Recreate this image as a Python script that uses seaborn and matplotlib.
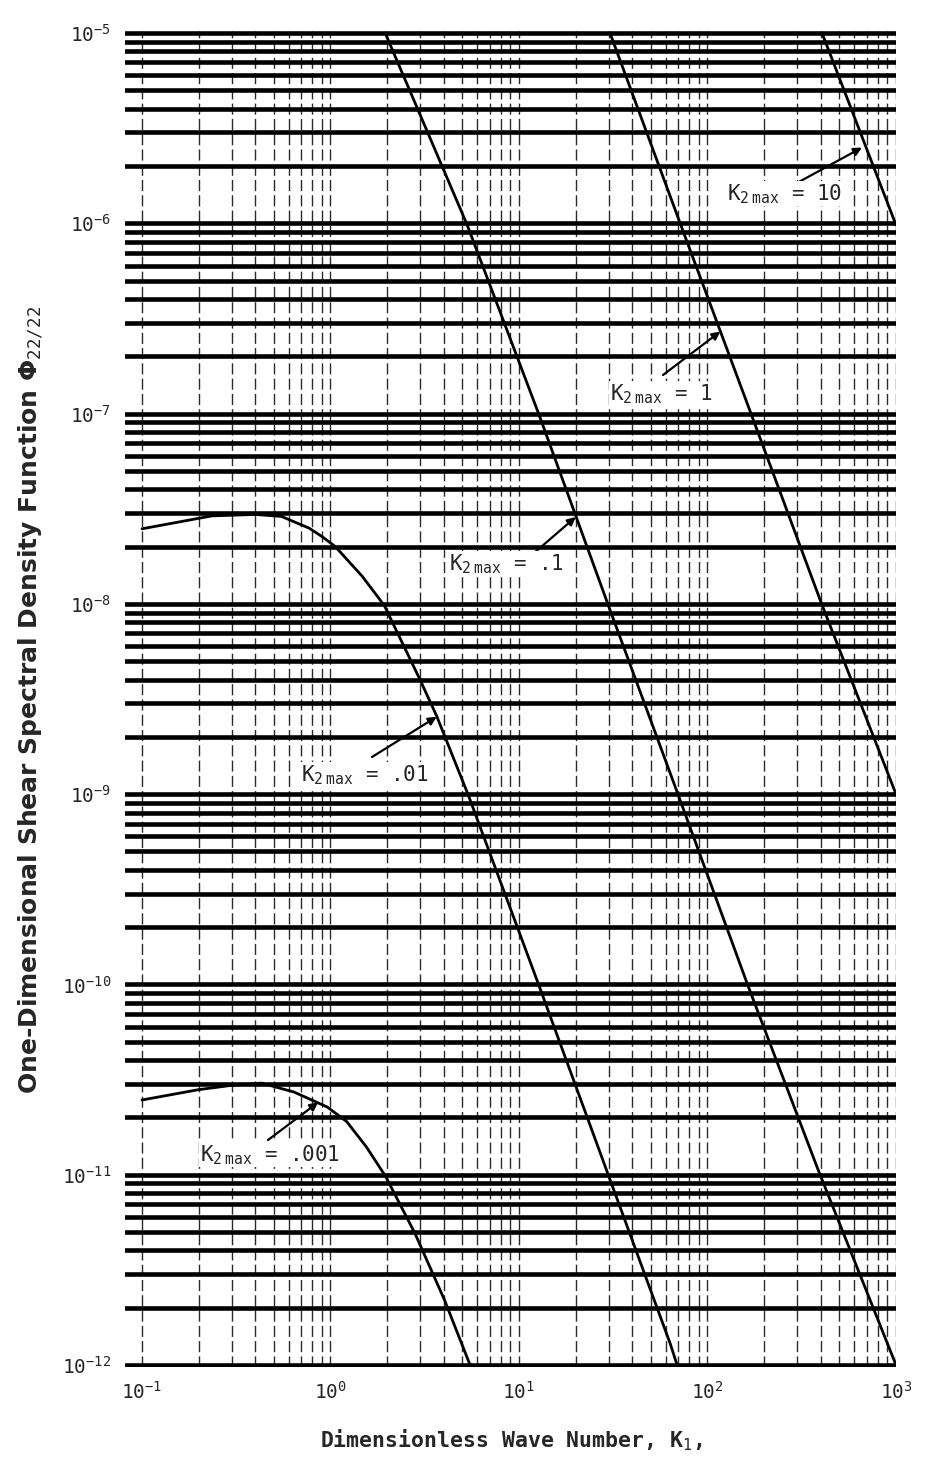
import matplotlib
matplotlib.use("Agg")
import matplotlib.pyplot as plt
import matplotlib.ticker as mticker
import pandas as pd
import seaborn as sns

# ---------------- data ----------------
k1_k2_10 = [405, 1000]
phi_k2_10 = [1.0e-5, 9.8e-7]

k1_k2_1 = [30.4, 71.6, 167, 403, 1000]
phi_k2_1 = [1.0e-5, 1.0e-6, 1.05e-7, 1.0e-8, 1.0e-9]

k1_k2_p1 = [1.95, 5.31, 12.8, 29.8, 70.2, 163, 385, 1000]
phi_k2_p1 = [1.0e-5, 9.8e-7, 9.8e-8, 9.8e-9, 9.8e-10, 1.0e-10, 1.07e-11, 1.0e-12]

k1_k2_p01 = [0.1, 0.235, 0.4, 0.55, 0.77, 0.906, 1.06, 1.47, 1.93, 2.99, 3.66,
             5.4, 12.7, 29.0, 63.5, 69.0]
phi_k2_p01 = [2.48e-8, 2.9e-8, 2.95e-8, 2.88e-8, 2.5e-8, 2.25e-8, 2.0e-8, 1.4e-8,
              9.8e-9, 3.98e-9, 2.57e-9, 9.8e-10, 1.0e-10, 1.07e-11, 1.29e-12, 1.0e-12]

k1_k2_p001 = [0.1, 0.2, 0.3, 0.43, 0.64, 0.96, 1.22, 1.55, 1.96, 2.8, 4.03, 5.5]
phi_k2_p001 = [2.47e-11, 2.8e-11, 2.95e-11, 3.03e-11, 2.72e-11, 2.27e-11, 1.9e-11,
               1.4e-11, 9.8e-12, 4.94e-12, 2.19e-12, 1.0e-12]

curve_names = ["10", "1", ".1", ".01", ".001"]
curve_k1 = [k1_k2_10, k1_k2_1, k1_k2_p1, k1_k2_p01, k1_k2_p001]
curve_phi = [phi_k2_10, phi_k2_1, phi_k2_p1, phi_k2_p01, phi_k2_p001]

# arrow tips (on the curves, data coords) for the K2 max labels
tip_k1 = [660, 117, 20, 3.66, 0.86]
tip_phi = [2.5e-6, 2.7e-7, 2.86e-8, 2.55e-9, 2.4e-11]

x_tick_values = [0.1, 1, 10, 100, 1000]
x_tick_labels = ["10$^{-1}$", "10$^{0}$", "10$^{1}$", "10$^{2}$", "10$^{3}$"]
y_tick_values = [1e-12, 1e-11, 1e-10, 1e-9, 1e-8, 1e-7, 1e-6, 1e-5]
y_tick_labels = ["10$^{-12}$", "10$^{-11}$", "10$^{-10}$", "10$^{-9}$",
                 "10$^{-8}$", "10$^{-7}$", "10$^{-6}$", "10$^{-5}$"]

x_label = "Dimensionless Wave Number, K$_{1}$,"
y_label = "One-Dimensional Shear Spectral Density Function \u03A6$_{22/22}$"

# ---------------- style ----------------
sns.set_style("white")
plt.rcParams["font.family"] = ["DejaVu Sans Mono", "DejaVu Sans"]
plt.rcParams["mathtext.fontset"] = "custom"
plt.rcParams["mathtext.rm"] = "DejaVu Sans Mono"
plt.rcParams["mathtext.it"] = "DejaVu Sans Mono"
plt.rcParams["mathtext.bf"] = "DejaVu Sans Mono:bold"
plt.rcParams["mathtext.default"] = "rm"

W, H = 929, 1459
fig = plt.figure(figsize=(W / 100, H / 100), dpi=100)
fig.patch.set_facecolor("white")

L, R, T, B = 125, 896, 31, 1367
ax = fig.add_axes([L / W, 1 - B / H, (R - L) / W, (B - T) / H])
ax.set_xscale("log")
ax.set_yscale("log")

frames = []
for name, xs, ys in zip(curve_names, curve_k1, curve_phi):
    frames.append(pd.DataFrame({"k1": xs, "phi": ys, "k2max": name}))
df = pd.concat(frames, ignore_index=True)

for name in curve_names:
    sub = df[df["k2max"] == name]
    sns.lineplot(data=sub, x="k1", y="phi", ax=ax, color="black", lw=2.0,
                 estimator=None, sort=False, legend=False, zorder=5)

ax.set_xlim(10 ** (-1 - 17 / 188.5), 1000)
ax.set_ylim(10 ** (-12 - 2 / 190.3), 10 ** (-5 + 2 / 190.3))

# grid: thick horizontal lines, thin broken vertical lines
x_minor = [m * 10.0 ** e for e in range(-1, 3) for m in range(2, 10)]
y_minor = [m * 10.0 ** e for e in range(-12, -5) for m in range(2, 10)]
ax.xaxis.set_major_locator(mticker.FixedLocator(x_tick_values))
ax.xaxis.set_minor_locator(mticker.FixedLocator(x_minor))
ax.yaxis.set_major_locator(mticker.FixedLocator(y_tick_values))
ax.yaxis.set_minor_locator(mticker.FixedLocator(y_minor))
ax.xaxis.set_major_formatter(mticker.FixedFormatter(x_tick_labels))
ax.xaxis.set_minor_formatter(mticker.NullFormatter())
ax.yaxis.set_major_formatter(mticker.FixedFormatter(y_tick_labels))
ax.yaxis.set_minor_formatter(mticker.NullFormatter())

ax.grid(True, which="both", axis="y", color="black", lw=3.3, zorder=2)
ax.grid(True, which="both", axis="x", color="#2a2a2a", lw=1.0,
        linestyle=(0, (8, 3)), zorder=1)
ax.set_axisbelow(True)
for s in ax.spines.values():
    s.set_visible(False)

ax.tick_params(axis="y", which="both", length=0, pad=10, labelsize=14)
ax.tick_params(axis="x", which="both", length=7, width=1.0, direction="out",
               color="#222222", pad=3, labelsize=14)
ax.set_xlabel("")
ax.set_ylabel("")

fig.text(511 / W, 1 - 1440 / H, x_label, ha="center", va="center",
         fontsize=15.5, fontweight="bold", family="DejaVu Sans Mono")
fig.text(31 / W, 1 - 700 / H, y_label, ha="center", va="center", rotation=90,
         fontsize=18, fontweight="bold", family="DejaVu Sans")

# K2 max annotations: text position and arrow tail in figure pixels
label_text_px = [(727, 200), (610, 400), (449, 570), (301, 781), (200, 1161)]
label_tail_px = [(797, 183), (663, 375), (519, 566), (372, 757), (268, 1140)]
for name, (tx, ty), (ax_, ay_), xk, yp in zip(curve_names, label_text_px,
                                             label_tail_px, tip_k1, tip_phi):
    fig.text(tx / W, 1 - ty / H, "K$_{2\\ max}$ = " + name, ha="left",
             va="baseline", fontsize=15, family="DejaVu Sans Mono",
             zorder=10,
             bbox=dict(facecolor="white", edgecolor="none", pad=0.5))
    ax.annotate("", xy=(xk, yp), xycoords="data",
                xytext=(ax_ / W, 1 - ay_ / H), textcoords="figure fraction",
                arrowprops=dict(arrowstyle="-|>", color="black", lw=1.6,
                                mutation_scale=12, shrinkA=0, shrinkB=0),
                zorder=10)

fig.savefig("out.png", dpi=100, facecolor="white")
